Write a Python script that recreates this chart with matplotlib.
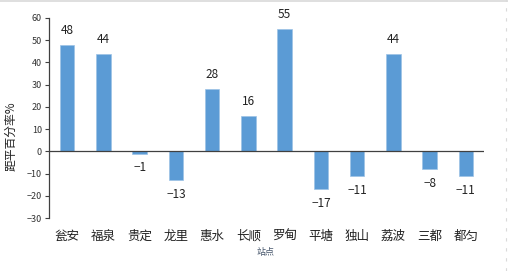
import matplotlib
matplotlib.use("Agg")
import matplotlib.pyplot as plt
from matplotlib.lines import Line2D

plt.rcParams['font.family'] = ['Noto Sans CJK SC', 'DejaVu Sans']

stations = ["瓮安", "福泉", "贵定", "龙里", "惠水", "长顺", "罗甸", "平塘", "独山", "荔波", "三都", "都匀"]
values = [48, 44, -1, -13, 28, 16, 55, -17, -11, 44, -8, -11]
yticks = [-30, -20, -10, 0, 10, 20, 30, 40, 50, 60]

fig = plt.figure(figsize=(5.08, 2.71), dpi=100)
ax = fig.add_axes([49/508, 1-218/271, (484-49)/508, 200/271])

x = list(range(len(stations)))
bars = ax.bar(x, values, width=0.4, color="#5B9BD5", edgecolor="#9DC3E6", linewidth=0.5, zorder=2)
for xi, v in zip(x, values):
    if v >= 0:
        ax.text(xi, v + 3.5, str(v), ha="center", va="bottom", fontsize=8.5, color="#222222")
    else:
        ax.text(xi, v - 3.5, "−" + str(abs(v)), ha="center", va="top", fontsize=8.5, color="#222222")

ax.set_xlim(-0.5, len(stations) - 0.5)
ax.set_ylim(-30, 60)
ax.set_yticks(yticks)
ax.set_yticklabels(["−" + str(abs(t)) if t < 0 else str(t) for t in yticks], fontsize=6.5, color="#333333")
ax.tick_params(axis="y", direction="out", length=3, width=0.8, color="#404040", pad=2)

ax.set_xticks(x)
ax.set_xticklabels(stations, fontsize=9, color="#222222")
ax.tick_params(axis="x", length=0, pad=0)
for lbl in ax.get_xticklabels():
    lbl.set_y(-0.06)

ax.axhline(0, color="#404040", linewidth=0.9, zorder=3)
for s in ["top", "right", "bottom"]:
    ax.spines[s].set_visible(False)
ax.spines["left"].set_color("#404040")
ax.spines["left"].set_linewidth(0.9)

ax.set_ylabel("距平百分率%", fontsize=8.5, color="#222222", va="center")
ax.yaxis.set_label_coords(-0.088, 0.41)
fig.text(266/508, 1-252/271, "站点", ha="center", va="center", fontsize=6.5, color="#44546A")

fig.add_artist(Line2D([0, 1], [1-0.8/271, 1-0.8/271], transform=fig.transFigure, color="#d9d9d9", linewidth=1.2))
fig.add_artist(Line2D([506/508, 506/508], [0, 1], transform=fig.transFigure, color="#d9d9d9", linewidth=0.8, linestyle=(0, (3, 6))))

fig.savefig("out.png", dpi=100, facecolor="white")
